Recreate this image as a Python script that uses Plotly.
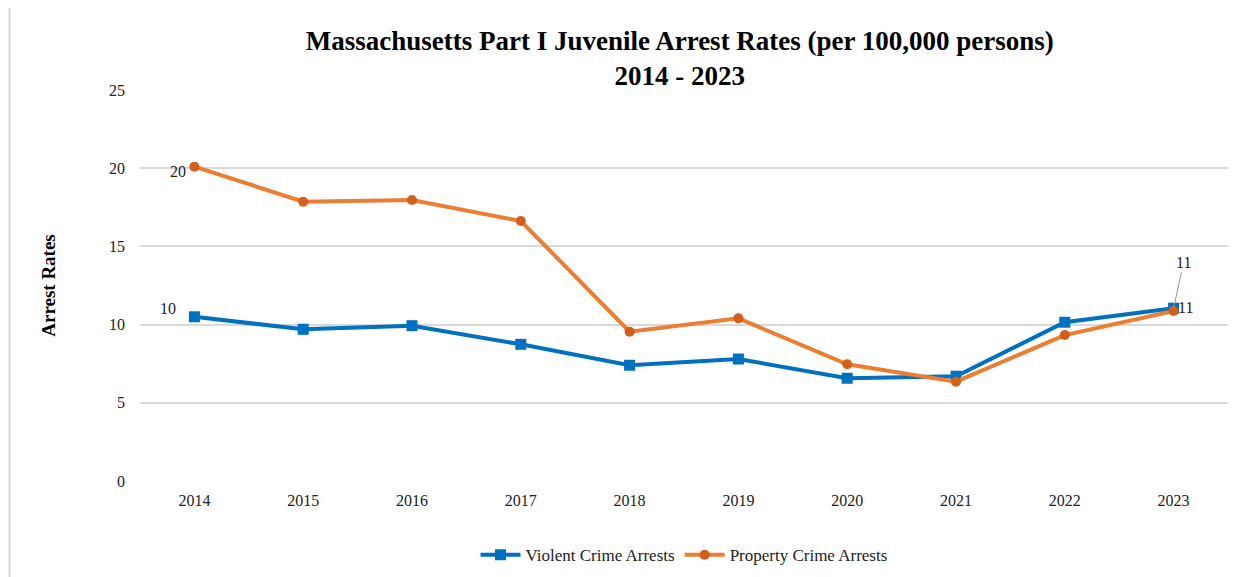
import plotly.graph_objects as go

years = ["2014", "2015", "2016", "2017", "2018", "2019", "2020", "2021", "2022", "2023"]
violent = [10.5, 9.7, 9.93, 8.74, 7.4, 7.8, 6.57, 6.7, 10.15, 11.05]
property_ = [20.1, 17.86, 17.97, 16.62, 9.55, 10.4, 7.46, 6.35, 9.33, 10.87]
y_ticks = [0, 5, 10, 15, 20, 25]

BLUE = "#0070C0"
ORANGE = "#ED7D31"
SERIF = "Liberation Serif, Times New Roman, serif"
LABEL_FONT = dict(family=SERIF, size=16, color="#222")

fig = go.Figure()
fig.add_trace(go.Scatter(
    x=years, y=violent, name="Violent Crime Arrests", mode="lines+markers",
    line=dict(color=BLUE, width=4),
    marker=dict(symbol="square", size=11, color=BLUE),
))
fig.add_trace(go.Scatter(
    x=years, y=property_, name="Property Crime Arrests", mode="lines+markers",
    line=dict(color=ORANGE, width=4),
    marker=dict(symbol="circle", size=10, color="#D2601A"),
))

# data labels (category index: first and last year)
first, last = 0, len(years) - 1
fig.add_annotation(x=first, y=property_[first], text=str(round(property_[first])),
                   showarrow=False, xanchor="right", xshift=-6, yshift=-5, font=LABEL_FONT)
fig.add_annotation(x=first, y=violent[first], text=str(round(violent[first])),
                   showarrow=False, xanchor="right", xshift=-16, yshift=8, font=LABEL_FONT)
fig.add_annotation(x=last, y=property_[last], text=str(round(property_[last])),
                   showarrow=False, xanchor="left", xshift=2, yshift=3, font=LABEL_FONT)
fig.add_annotation(x=last, y=violent[last], text=str(round(violent[last])),
                   showarrow=True, arrowhead=0, arrowwidth=1, arrowcolor="#999",
                   ax=10, ay=-46, standoff=0, font=LABEL_FONT)

fig.update_layout(
    width=1244, height=577,
    paper_bgcolor="white", plot_bgcolor="white",
    margin=dict(l=132, r=24, t=82, b=104),
    title=dict(
        text="<b>Massachusetts Part I Juvenile Arrest Rates (per 100,000 persons)<br>2014 - 2023</b>",
        x=0.54, xanchor="center", y=0.928, yanchor="top",
        font=dict(family=SERIF, size=27, color="black"),
    ),
    font=dict(family=SERIF, size=16, color="#333"),
    xaxis=dict(
        type="category", range=[-0.5, 9.5], showgrid=False, showline=False,
        ticks="", ticklabelstandoff=8, automargin=False,
        tickfont=dict(family=SERIF, size=16, color="#222"),
    ),
    yaxis=dict(
        range=[0, 25], tickvals=y_ticks, showgrid=True, gridcolor="#D9D9D9",
        gridwidth=2, zeroline=False, showline=False, ticks="", ticklabelstandoff=14,
        automargin=False,
        tickfont=dict(family=SERIF, size=16, color="#222"),
        title=dict(text="<b>Arrest Rates</b>", standoff=48,
                   font=dict(family=SERIF, size=19, color="black")),
    ),
    legend=dict(
        orientation="h", x=0.5, xanchor="center", y=-0.19, yanchor="middle",
        font=dict(family=SERIF, size=17, color="#222"), itemwidth=40,
    ),
    showlegend=True,
    shapes=[dict(type="line", xref="paper", yref="paper", x0=-0.12, x1=-0.12,
                 y0=-0.3, y1=1.25, line=dict(color="#D9D9D9", width=2))],
)

fig.write_html("out.html")
